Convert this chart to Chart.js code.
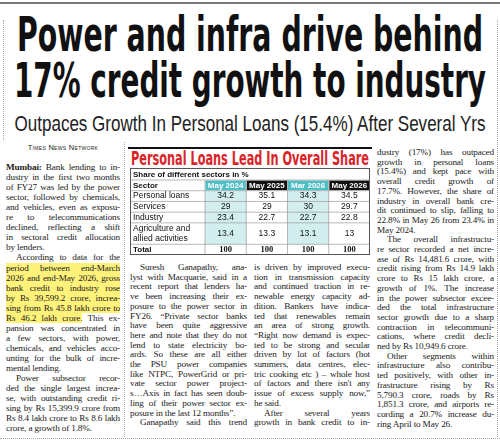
<!DOCTYPE html>
<html><head><meta charset="utf-8">
<script src="https://cdn.jsdelivr.net/npm/chart.js@4"></script>
<style>
html,body{margin:0;padding:0;background:#fff;width:500px;height:442px;overflow:hidden;position:relative;font-family:"Liberation Serif",serif;color:#222}
.hl{position:absolute;left:0;width:500px;font-family:"DejaVu Sans Condensed","Liberation Sans",sans-serif;font-weight:bold;color:#111;white-space:nowrap}
.hl span{position:absolute;left:50%;top:0;transform-origin:0 0}
.col{position:absolute;font-size:9.2px;letter-spacing:-0.15px}
.col div{white-space:nowrap;text-align:justify;text-align-last:justify;overflow:hidden}
.col div.e{text-align-last:left}
.col div.i{padding-left:10px}
.hi{background:#fff27a}
#tw{position:absolute;left:130px;top:168px;width:240px;height:87px}
</style></head><body>
<div style="position:absolute;left:0;top:2px;width:500px;height:1.5px;background:#777"></div>
<div style="position:absolute;left:3px;top:20px;height:120px;border-left:1px dotted #aaa"></div>
<div style="position:absolute;left:497px;top:20px;height:417px;border-left:1px dotted #aaa"></div>
<div style="position:absolute;left:124px;top:142px;height:295px;border-left:1px dotted #aaa"></div>
<div style="position:absolute;left:0;top:438px;width:500px;border-top:1px dotted #aaa"></div>
<div class="hl" style="top:11px;font-size:48px;line-height:46px;height:46px"><span id="h1">Power and infra drive behind</span></div>
<div class="hl" style="top:57px;font-size:48px;line-height:46px;height:46px"><span id="h2">17% credit growth to industry</span></div>
<div class="hl" style="top:111px;font-size:22px;line-height:26px;font-weight:normal;color:#222;font-family:'Liberation Sans',sans-serif"><span id="h3">Outpaces Growth In Personal Loans (15.4%) After Several Yrs</span></div>

<div class="col" style="left:6px;top:143px;width:114px;line-height:10.05px">
<div class="e" style="text-align:center;text-align-last:center;font-family:'Liberation Sans',sans-serif;font-size:7.5px;letter-spacing:0.3px;margin-bottom:9px;font-variant:small-caps">Times News Network</div>
<div><b>Mumbai:</b> Bank lending to in-</div>
<div>dustry in the first two months</div>
<div>of FY27 was led by the power</div>
<div>sector, followed by chemicals,</div>
<div>and vehicles, even as exposu-</div>
<div>re to telecommunications</div>
<div>declined, reflecting a shift</div>
<div>in sectoral credit allocation</div>
<div class="e">by lenders.</div>
<div class="i">According to data for the</div>
<div><span class="hi">period between end-March</span></div>
<div class="hi">2026 and end-May 2026, gross</div>
<div class="hi">bank credit to industry rose</div>
<div class="hi">by Rs 39,599.2 crore, increa-</div>
<div class="hi">sing from Rs 45.8 lakh crore to</div>
<div><span class="hi">Rs 46.2 lakh crore.</span> This ex-</div>
<div>pansion was concentrated in</div>
<div>a few sectors, with power,</div>
<div>chemicals, and vehicles acco-</div>
<div>unting for the bulk of incre-</div>
<div class="e">mental lending.</div>
<div class="i">Power subsector recor-</div>
<div>ded the single largest increa-</div>
<div>se, with outstanding credit ri-</div>
<div>sing by Rs 15,399.9 crore from</div>
<div>Rs 8.4 lakh crore to Rs 8.6 lakh</div>
<div class="e">crore, a growth of 1.8%.</div>
</div>

<div class="col" style="left:130px;top:263px;width:117px;line-height:9.7px">
<div class="i">Suresh Ganapathy, ana-</div>
<div>lyst with Macquarie, said in a</div>
<div>recent report that lenders ha-</div>
<div>ve been increasing their ex-</div>
<div>posure to the power sector in</div>
<div>FY26. “Private sector banks</div>
<div>have been quite aggressive</div>
<div>here and note that they do not</div>
<div>lend to state electricity bo-</div>
<div>ards. So these are all either</div>
<div>the PSU power companies</div>
<div>like NTPC, PowerGrid or pri-</div>
<div>vate sector power project-</div>
<div>s…Axis in fact has seen doub-</div>
<div>ling of their power sector ex-</div>
<div class="e">posure in the last 12 months”.</div>
<div class="i">Ganapathy said this trend</div>
</div>

<div class="col" style="left:254px;top:263px;width:116px;line-height:9.7px">
<div>is driven by improved execu-</div>
<div>tion in transmission capacity</div>
<div>and continued traction in re-</div>
<div>newable energy capacity ad-</div>
<div>dition. Bankers have indica-</div>
<div>ted that renewables remain</div>
<div>an area of strong growth.</div>
<div>“Right now demand is expec-</div>
<div>ted to be strong and secular</div>
<div>driven by lot of factors (hot</div>
<div>summers, data centres, elec-</div>
<div>tric cooking etc ) – whole host</div>
<div>of factors and there isn't any</div>
<div>issue of excess supply now,”</div>
<div class="e">he said.</div>
<div class="i">After several years</div>
<div>growth in bank credit to in-</div>
</div>

<div class="col" style="left:377px;top:148px;width:117px;line-height:9.7px">
<div>dustry (17%) has outpaced</div>
<div>growth in personal loans</div>
<div>(15.4%) and kept pace with</div>
<div>overall credit growth of</div>
<div>17.7%. However, the share of</div>
<div>industry in overall bank cre-</div>
<div>dit continued to slip, falling to</div>
<div>22.8% in May 26 from 23.4% in</div>
<div class="e">May 2024.</div>
<div class="i">The overall infrastructu-</div>
<div>re sector recorded a net incre-</div>
<div>ase of Rs 14,481.6 crore, with</div>
<div>credit rising from Rs 14.9 lakh</div>
<div>crore to Rs 15 lakh crore, a</div>
<div>growth of 1%. The increase</div>
<div>in the power subsector excee-</div>
<div>ded the total infrastructure</div>
<div>sector growth due to a sharp</div>
<div>contraction in telecommuni-</div>
<div>cations, where credit decli-</div>
<div class="e">ned by Rs 10,949.6 crore.</div>
<div class="i">Other segments within</div>
<div>infrastructure also contribu-</div>
<div>ted positively, with other in-</div>
<div>frastructure rising by Rs</div>
<div>5,790.3 crore, roads by Rs</div>
<div>1,851.3 crore, and airports re-</div>
<div>cording a 20.7% increase du-</div>
<div class="e">ring April to May 26.</div>
</div>

<div style="position:absolute;left:128px;top:147px;width:244px;height:2px;background:#111"></div>
<div class="hl" style="left:128px;width:244px;top:149px;font-size:19px;line-height:19px;color:#d9252a"><span id="tt">Personal Loans Lead In Overall Share</span></div>
<div id="tw"><canvas id="c"></canvas></div>

<script>
const tableTitle = "Share of different sectors in %";
const periods = ["May 2024","May 2025","Mar 2026","May 2026"];
const sectors = ["Personal loans","Services","Industry",["Agriculture and","allied activities"],"Total"];
const personalLoans = [34.2,35.1,34.3,34.5];
const services = [29,29,30,29.7];
const industry = [23.4,22.7,22.7,22.8];
const agriculture = [13.4,13.3,13.1,13];
const total = [100,100,100,100];
const rowValues = [personalLoans,services,industry,agriculture,total];

function fit(id,w){const e=document.getElementById(id);const s=w/e.getBoundingClientRect().width;e.style.transform='scaleX('+s+') translateX(-50%)';}
fit('h1',466);fit('h2',472);fit('h3',471);fit('tt',238);

const teal='#4fbfc6', lightTeal='#d3eeee';
const tablePlugin={id:'table',afterDraw(ch){
  const ctx=ch.ctx,x=ch.scales.x,y=ch.scales.y,a=ch.chartArea;
  const colW=(a.right-a.left)/periods.length;
  let bounds=[[0,1]];let r=1;
  sectors.forEach(s=>{const n=Array.isArray(s)?s.length:1;bounds.push([r,r+n]);r+=n;});
  ctx.save();
  periods.forEach((p,i)=>{const cx=x.getPixelForValue(i);
    if(i%2===0){ctx.fillStyle=lightTeal;ctx.fillRect(cx-colW/2,y.getPixelForValue(1),colW,y.getPixelForValue(r-1)-y.getPixelForValue(1));}
    ctx.fillStyle=i%2===0?teal:'#111';
    ctx.fillRect(cx-colW/2+0.5,y.getPixelForValue(0)+0.5,colW-1,y.getPixelForValue(1)-y.getPixelForValue(0)-1);
    ctx.fillStyle='#fff';ctx.font='bold 8px "Liberation Sans Narrow","Liberation Sans",sans-serif';
    ctx.textAlign='center';ctx.textBaseline='middle';ctx.fillText(p,cx,y.getPixelForValue(0.5));
  });
  ctx.strokeStyle='#999';ctx.lineWidth=0.7;
  bounds.forEach(b=>{const yy=y.getPixelForValue(b[1]);ctx.beginPath();ctx.moveTo(0,yy);ctx.lineTo(a.right,yy);ctx.stroke();});
  ctx.beginPath();ctx.moveTo(0,y.getPixelForValue(0));ctx.lineTo(a.right,y.getPixelForValue(0));ctx.stroke();
  periods.forEach((p,i)=>{const xx=x.getPixelForValue(i)-colW/2;ctx.beginPath();ctx.moveTo(xx,y.getPixelForValue(0));ctx.lineTo(xx,a.bottom);ctx.stroke();});
  ctx.strokeStyle='#555';ctx.lineWidth=1;ctx.strokeRect(0.5,0.5,a.right-1,a.bottom-1);
  ctx.fillStyle='#111';ctx.textAlign='left';ctx.textBaseline='middle';
  ctx.font='bold 8px "Liberation Sans Narrow","Liberation Sans",sans-serif';
  ctx.fillText(tableTitle,3,a.top/2+0.5);
  ctx.fillText('Sector',3,y.getPixelForValue(0.5));
  sectors.forEach((s,k)=>{const b=bounds[k+1];const isTot=k===sectors.length-1;
    ctx.font=(isTot?'bold 8px ':'8.5px ')+'"Liberation Sans Narrow","Liberation Sans",sans-serif';
    ctx.textAlign='left';
    const lines=Array.isArray(s)?s:[s];
    lines.forEach((l,j)=>ctx.fillText(l,3,y.getPixelForValue(b[0]+j+0.5)));
    ctx.font=(isTot?'bold 8.5px "Liberation Serif",serif':'8.5px "Liberation Sans Narrow","Liberation Sans",sans-serif');
    ctx.textAlign='center';
    rowValues[k].forEach((v,i)=>ctx.fillText(String(v),x.getPixelForValue(i),y.getPixelForValue((b[0]+b[1])/2)));
  });
  ctx.restore();
}};
const nRows=1+sectors.reduce((t,s)=>t+(Array.isArray(s)?s.length:1),0);
new Chart(document.getElementById('c'),{
  type:'bar',
  data:{labels:periods,datasets:[{data:periods.map(()=>null)}]},
  options:{responsive:true,maintainAspectRatio:false,animation:false,events:[],
    layout:{padding:{top:12,left:75,right:0,bottom:0}},
    plugins:{legend:{display:false},tooltip:{enabled:false}},
    scales:{x:{type:'category',offset:true,display:false},
            y:{type:'linear',min:0,max:nRows,reverse:true,display:false}}},
  plugins:[tablePlugin]
});
</script>
</body></html>
